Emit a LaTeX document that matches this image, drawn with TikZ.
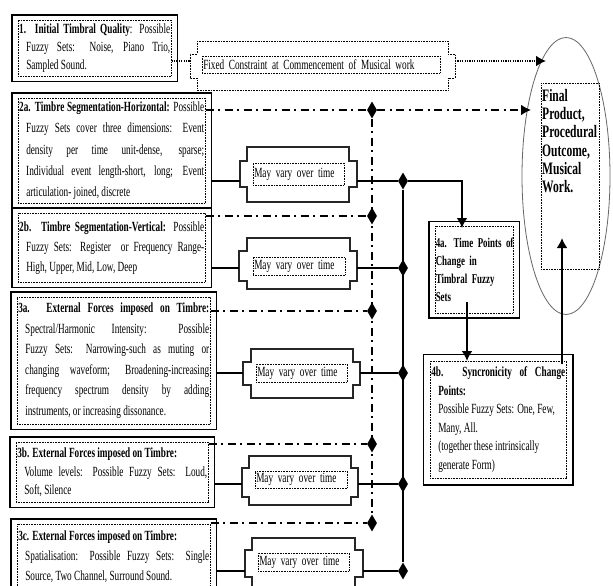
\documentclass[tikz,border=0pt]{standalone}
\usepackage{fontspec}
\setmainfont{Liberation Serif}[FakeStretch=0.66]
\usetikzlibrary{shapes.geometric,arrows.meta,fit,positioning}
\tolerance=10000
\hbadness=10000
\tikzset{
    txt/.style = {anchor=north west, draw, dash pattern=on 0.8pt off 0.8pt, line width=0.5pt, inner xsep=1pt, inner ysep=2pt, align=justify},
    box/.style = {draw, line width=1.3pt, inner xsep=6pt, inner ysep=5pt},
    junc/.style = {diamond, fill, inner sep=0pt, minimum width=10pt, minimum height=17pt, node contents={}},
    wire/.style = {line width=2.2pt},
    dashdot/.style = {line width=2.2pt, dash pattern=on 8pt off 4.5pt on 2pt off 4.5pt},
    dots/.style = {line width=2.4pt, dash pattern=on 1.2pt off 1.2pt},
    tip/.style = {-{Latex[length=10pt,width=11pt]}},
    notch/.style = {draw=black!85, line width=1.2pt}
}
\begin{document}
\begin{tikzpicture}[x=1pt, y=-1pt]
    \useasboundingbox (0,0) rectangle (613,586);
    \clip (0,0) rectangle (613,586);

    % left column of fuzzy set boxes
    \node[txt, text width=151pt, minimum height=56pt, font=\fontsize{14}{18}\selectfont] (b1) at (18,20)
        {\hangindent=7pt\hangafter=1 \textbf{1. Initial Timbral Quality}: Possible\linebreak Fuzzy Sets: Noise, Piano Trio,\linebreak Sampled Sound.\par};
    \node[txt, text width=185pt, minimum height=105pt, font=\fontsize{14}{21.2}\selectfont] (b2a) at (18,98)
        {\hangindent=7pt\hangafter=1 \textbf{2a. Timbre Segmentation-Horizontal:} Possible\linebreak Fuzzy Sets cover three dimensions: Event\linebreak density per time unit-dense, sparse;\linebreak Individual event length-short, long; Event\linebreak articulation- joined, discrete\par};
    \node[txt, text width=185pt, minimum height=69pt, font=\fontsize{14}{20}\selectfont] (b2b) at (18,213)
        {\hangindent=7pt\hangafter=1 \textbf{2b. Timbre Segmentation-Vertical:} Possible\linebreak Fuzzy Sets: Register\ \ or Frequency Range-\linebreak High, Upper, Mid, Low, Deep\par};
    \node[txt, text width=191pt, minimum height=127pt, font=\fontsize{14}{20.6}\selectfont] (b3a) at (17,297)
        {\hangindent=7pt\hangafter=1 \textbf{3a. External Forces imposed on Timbre:}\linebreak Spectral/Harmonic Intensity: Possible\linebreak Fuzzy Sets: Narrowing-such as muting or\linebreak changing waveform; Broadening-increasing\linebreak frequency spectrum density by adding\linebreak instruments, or increasing dissonance.\par};
    \node[txt, text width=190pt, minimum height=60pt, font=\fontsize{14}{18.5}\selectfont] (b3b) at (16,442)
        {\hangindent=7pt\hangafter=1 \textbf{3b. External Forces imposed on Timbre:}\\ Volume levels: Possible Fuzzy Sets: Loud,\linebreak Soft, Silence\par};
    \node[txt, text width=191pt, minimum height=65pt, font=\fontsize{14}{20}\selectfont] (b3c) at (17,524)
        {\hangindent=7pt\hangafter=1 \textbf{3c. External Forces imposed on Timbre:}\\ Spatialisation: Possible Fuzzy Sets: Single\linebreak Source, Two Channel, Surround Sound.\par};

    \node[box, fit=(b1)] (B1) {};
    \node[box, fit=(b2a)] (B2a) {};
    \node[box, fit=(b2b)] (B2b) {};
    \node[box, fit=(b3a)] (B3a) {};
    \node[box, fit=(b3b)] (B3b) {};
    \node[box, fit=(b3c)] (B3c) {};

    % fixed constraint
    \draw[densely dotted, line width=0.6pt] (197,41) -- (448,41) -- (448,54) -- (455,54) -- (455,78) -- (448,78) -- (448,90) -- (197,90) -- (197,78) -- (190,78) -- (190,54) -- (197,54) -- cycle;
    \node[txt, align=left, text width=236pt, minimum height=17pt, font=\fontsize{14}{16}\selectfont] (fc) at (202,56) {Fixed Constraint at Commencement of Musical work};

    % may vary boxes
    \draw[notch] (247,147) -- (349,147) -- (349,161) -- (357,161) -- (357,187) -- (349,187) -- (349,202) -- (247,202) -- (247,187) -- (240,187) -- (240,161) -- (247,161) -- cycle;
    \draw[notch] (247,238) -- (350,238) -- (350,251) -- (357,251) -- (357,281) -- (350,281) -- (350,289) -- (247,289) -- (247,281) -- (239,281) -- (239,251) -- (247,251) -- cycle;
    \draw[notch] (251,349) -- (353,349) -- (353,362) -- (360,362) -- (360,385) -- (353,385) -- (353,398) -- (251,398) -- (251,385) -- (243,385) -- (243,362) -- (251,362) -- cycle;
    \draw[notch] (249,456) -- (351,456) -- (351,468) -- (358,468) -- (358,497) -- (351,497) -- (351,505) -- (249,505) -- (249,497) -- (242,497) -- (242,468) -- (249,468) -- cycle;
    \draw[notch] (252,538) -- (355,538) -- (355,550) -- (363,550) -- (363,577) -- (355,577) -- (355,590) -- (252,590) -- (252,577) -- (245,577) -- (245,550) -- (252,550) -- cycle;
    \node[txt, align=left, text width=89pt, minimum height=22pt, font=\fontsize{14}{16}\selectfont] (mv1) at (253,163) {May vary over time};
    \node[txt, align=left, text width=90pt, minimum height=18pt, font=\fontsize{14}{16}\selectfont] (mv2) at (253,257) {May vary over time};
    \node[txt, align=left, text width=89pt, minimum height=18pt, font=\fontsize{14}{16}\selectfont] (mv3) at (256,364) {May vary over time};
    \node[txt, align=left, text width=90pt, minimum height=17pt, font=\fontsize{14}{16}\selectfont] (mv4) at (255,471) {May vary over time};
    \node[txt, align=left, text width=89pt, minimum height=18pt, font=\fontsize{14}{16}\selectfont] (mv5) at (258,553) {May vary over time};

    % change points
    \node[txt, align=left, text width=77pt, inner xsep=0.5pt, minimum height=87pt, font=\bfseries\fontsize{13.5}{18}\selectfont] (b4a) at (435,226)
        {\hangindent=7pt\hangafter=1 \mbox{4a. Time Points of}\\ Change in\\ Timbral Fuzzy\\ Sets\par};
    \node[txt, text width=134pt, minimum height=117pt, font=\fontsize{14}{18.5}\selectfont] (b4b) at (430,361)
        {\hangindent=7pt\hangafter=1 \textbf{4b. Syncronicity of Change\linebreak Points:}\\ Possible Fuzzy Sets: One, Few,\\ Many, All.\\ (together these intrinsically\\ generate Form)\par};
    \node[box, fit=(b4a), inner ysep=4.5pt] (B4a) {};
    \node[box, fit=(b4b), inner sep=6.5pt] (B4b) {};

    % final product
    \node[ellipse, draw=black!60, line width=0.8pt, minimum width=88pt, minimum height=277pt, inner sep=0pt] (E) at (566,176) {};
    \node[anchor=north west, text width=57pt, inner xsep=1pt, inner ysep=6pt, align=left, font=\bfseries\fontsize{17.5}{18.3}\selectfont] (F) at (541,83)
        {Final\\ Product,\\ Procedural\\ Outcome,\\ Musical\\ Work.};
    \coordinate (Fb) at (599,269);
    \node[draw, dash pattern=on 0.8pt off 0.8pt, line width=0.5pt, inner sep=0pt, fit=(F.north west)(Fb)] (Fbox) {};

    % junctions
    \node (d1) at (372,110) [junc];
    \node (d2) at (372,216) [junc];
    \node (d3) at (372,311) [junc];
    \node (d4) at (372,444) [junc];
    \node (d5) at (372,523) [junc];
    \node (j1) at (403,181) [junc];
    \node (j2) at (403,268) [junc];
    \node (j3) at (403,373) [junc];
    \node (j4) at (403,484) [junc];
    \node (j5) at (403,571) [junc];

    \coordinate (fl) at (190,61);
    \coordinate (fr) at (455,61);
    \coordinate (e1) at (546,61);
    \coordinate (e2) at (531,110);
    \coordinate (m1l) at (240,181);
    \coordinate (m1r) at (357,181);
    \coordinate (m2l) at (239,268);
    \coordinate (m2r) at (357,268);
    \coordinate (m3l) at (243,373);
    \coordinate (m3r) at (360,373);
    \coordinate (m4l) at (242,484);
    \coordinate (m4r) at (358,484);
    \coordinate (m5l) at (245,571);
    \coordinate (m5r) at (363,571);
    \coordinate (a4a) at (462,228);
    \coordinate (s4a) at (467,302);
    \coordinate (s4b) at (562,364);
    \coordinate (fin) at (562,238);

    % fixed constraint line
    \draw[dots] (b1.east |- fl) -- (fl);
    \draw[dots, tip] (fr) -- (e1);

    % dash dot lines
    \draw[dashdot] (b2a.east |- d1) -- (d1);
    \draw[dashdot, tip] (d1) -- (e2);
    \draw[dashdot] (b2b.east |- d2) -- (d2);
    \draw[dashdot] (b3a.east |- d3) -- (d3);
    \draw[dashdot] (b3b.east |- d4) -- (d4);
    \draw[dashdot] (b3c.east |- d5) -- (d5);
    \draw[dashdot] (d1) -- (d5);

    % solid lines
    \draw[wire] (B2a.east |- m1l) -- (m1l);
    \draw[wire] (B2b.east |- m2l) -- (m2l);
    \draw[wire] (B3a.east |- m3l) -- (m3l);
    \draw[wire] (B3b.east |- m4l) -- (m4l);
    \draw[wire] (B3c.east |- m5l) -- (m5l);
    \draw[wire] (m1r) -- (j1);
    \draw[wire] (m2r) -- (j2);
    \draw[wire] (m3r) -- (j3);
    \draw[wire] (m4r) -- (j4);
    \draw[wire] (m5r) -- (j5);
    \draw[wire] (j1) -- (j5);
    \draw[wire, tip] (j1) -| (a4a);
    \draw[wire, tip] (s4a) -- (s4a |- b4b.north);
    \draw[wire, tip] (s4b) -- (fin);
\end{tikzpicture}
\end{document}
